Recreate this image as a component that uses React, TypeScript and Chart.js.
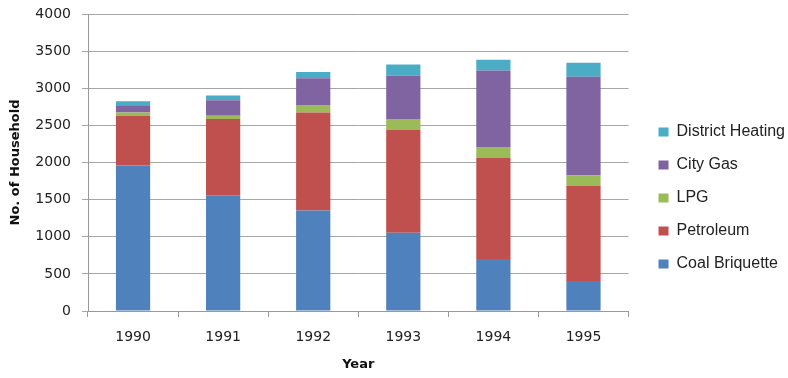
import React, { useEffect, useRef } from "react";
import { Chart, registerables } from "chart.js";

Chart.register(...registerables);

const years = ["1990", "1991", "1992", "1993", "1994", "1995"];
const coalBriquette = [1960, 1560, 1355, 1055, 700, 405];
const petroleum = [667, 1025, 1317, 1383, 1360, 1278];
const lpg = [45, 45, 103, 148, 148, 143];
const cityGas = [98, 210, 358, 587, 1030, 1330];
const districtHeating = [55, 63, 85, 147, 147, 188];

const TICK_FONT = "'DejaVu Sans', Verdana, sans-serif";
const LEGEND_FONT = "'Liberation Sans', Arial, sans-serif";

const legendShift = {
  id: "legendShift",
  afterLayout(chart: any) {
    const lg = chart.legend;
    if (lg) {
      lg.left += 13;
      lg.right += 13;
      lg.top += 2;
      lg.bottom += 2;
    }
  },
};

export default function App() {
  const ref = useRef<HTMLCanvasElement | null>(null);
  useEffect(() => {
    if (!ref.current) return;
    const chart = new Chart(ref.current, {
      type: "bar",
      data: {
        labels: years,
        datasets: [
          { label: "Coal Briquette", data: coalBriquette, backgroundColor: "#4F81BD" },
          { label: "Petroleum", data: petroleum, backgroundColor: "#C0504D" },
          { label: "LPG", data: lpg, backgroundColor: "#9BBB59" },
          { label: "City Gas", data: cityGas, backgroundColor: "#8064A2" },
          { label: "District Heating", data: districtHeating, backgroundColor: "#4BACC6" },
        ],
      },
      plugins: [legendShift],
      options: {
        animation: false,
        responsive: false,
        maintainAspectRatio: false,
        layout: { padding: { top: 14, right: 6, left: 0, bottom: 0 } },
        datasets: { bar: { barPercentage: 0.76, categoryPercentage: 0.5 } },
        plugins: {
          tooltip: { enabled: false },
          legend: {
            position: "right",
            reverse: true,
            labels: {
              boxWidth: 10,
              boxHeight: 9,
              padding: 17,
              color: "#222",
              font: { family: LEGEND_FONT, size: 16 },
            },
          },
        },
        scales: {
          x: {
            stacked: true,
            afterFit: (s: any) => { s.height = 67; },
            grid: { drawOnChartArea: false, color: "#999", tickLength: 6, offset: true },
            border: { color: "#999" },
            ticks: { color: "#222", padding: 12, font: { family: TICK_FONT, size: 14 } },
            title: {
              display: true,
              text: "Year",
              color: "#111",
              font: { family: TICK_FONT, size: 13, weight: "bold" },
              padding: { top: 4, bottom: 6 },
            },
          },
          y: {
            stacked: true,
            min: 0,
            max: 4000,
            afterFit: (s: any) => { s.width = 88; s.paddingTop = 0; s.paddingBottom = 0; },
            ticks: {
              stepSize: 500,
              color: "#222",
              padding: 11,
              font: { family: TICK_FONT, size: 14 },
              callback: (v: any) => String(v),
            },
            grid: { color: "#a6a6a6", tickLength: 6 },
            border: { color: "#999" },
            title: {
              display: true,
              text: "No. of Household",
              color: "#111",
              font: { family: TICK_FONT, size: 13, weight: "bold" },
              padding: { top: 8, bottom: 4 },
            },
          },
        },
      },
    });
    return () => chart.destroy();
  }, []);
  return (
    <div style={{ position: "fixed", left: 0, top: 0, width: 788, height: 378, background: "#fff" }}>
      <canvas ref={ref} width={788} height={378} />
    </div>
  );
}
